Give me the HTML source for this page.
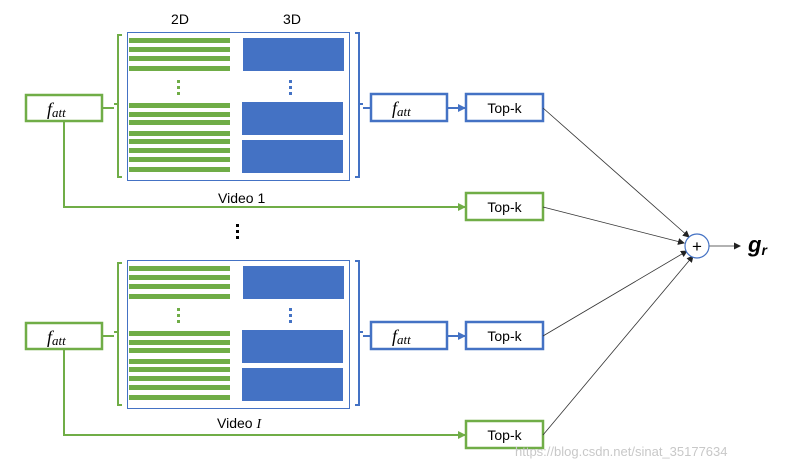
<!DOCTYPE html>
<html><head><meta charset="utf-8"><style>
html,body{margin:0;padding:0;background:#fff;width:788px;height:470px;overflow:hidden}
svg{display:block}
text{font-family:"Liberation Sans",sans-serif}
.m{font-family:"Liberation Serif",serif;font-style:italic}
</style></head><body>
<svg width="788" height="470" viewBox="0 0 788 470" xmlns="http://www.w3.org/2000/svg">
<defs>
<marker id="ab" markerWidth="8" markerHeight="8" refX="7" refY="4" orient="auto" markerUnits="userSpaceOnUse"><path d="M0,0 L8,4 L0,8 z" fill="#4472c4"/></marker>
<marker id="ag" markerWidth="8" markerHeight="8" refX="7" refY="4" orient="auto" markerUnits="userSpaceOnUse"><path d="M0,0 L8,4 L0,8 z" fill="#70ad47"/></marker>
<marker id="ak" markerWidth="7" markerHeight="7" refX="6" refY="3.5" orient="auto" markerUnits="userSpaceOnUse"><path d="M0,0 L7,3.5 L0,7 z" fill="#222"/></marker>
<g id="grp">
  <rect x="127.5" y="32.5" width="222" height="148" fill="#fff" stroke="#4472c4" stroke-width="1"/>
  <g fill="#70ad47">
    <rect x="129" y="38" width="101" height="5"/><rect x="129" y="47" width="101" height="5"/>
    <rect x="129" y="56" width="101" height="5"/><rect x="129" y="66" width="101" height="5"/>
    <rect x="129" y="103" width="101" height="5"/><rect x="129" y="112" width="101" height="5"/>
    <rect x="129" y="120" width="101" height="5"/><rect x="129" y="131" width="101" height="5"/>
    <rect x="129" y="139" width="101" height="5"/><rect x="129" y="148" width="101" height="5"/>
    <rect x="129" y="157" width="101" height="5"/><rect x="129" y="167" width="101" height="5"/>
    <rect x="177" y="80" width="3" height="3"/><rect x="177" y="86" width="3" height="3"/><rect x="177" y="92" width="3" height="3"/>
  </g>
  <g fill="#4472c4">
    <rect x="243" y="38" width="101" height="33"/>
    <rect x="242" y="102" width="101" height="33"/>
    <rect x="242" y="140" width="101" height="33"/>
    <rect x="289" y="80" width="3" height="3"/><rect x="289" y="86" width="3" height="3"/><rect x="289" y="92" width="3" height="3"/>
  </g>
  <path d="M122,35 h-4 v69 h-4 h4 v73 h4" fill="none" stroke="#70ad47" stroke-width="2"/>
  <path d="M355,33 h4 v71 h4 h-4 v73 h-4" fill="none" stroke="#4472c4" stroke-width="2"/>
  <path d="M102,108 h12" stroke="#70ad47" stroke-width="2"/>
  <rect x="26" y="95" width="76" height="26" fill="#fff" stroke="#70ad47" stroke-width="2.5"/>
  <text x="47" y="115" class="m" font-size="18">f<tspan font-size="13" dy="2">att</tspan></text>
  <path d="M363,108 h8" stroke="#4472c4" stroke-width="2"/>
  <rect x="371" y="94" width="76" height="27" fill="#fff" stroke="#4472c4" stroke-width="2.5"/>
  <text x="392" y="114" class="m" font-size="18">f<tspan font-size="13" dy="2">att</tspan></text>
  <line x1="447" y1="108" x2="465" y2="108" stroke="#4472c4" stroke-width="2" marker-end="url(#ab)"/>
  <rect x="466" y="94" width="77" height="27" fill="#fff" stroke="#4472c4" stroke-width="2.5"/>
  <text x="504.5" y="113" font-size="14" text-anchor="middle">Top-k</text>
  <polyline points="64,121 64,207 465,207" fill="none" stroke="#70ad47" stroke-width="2" marker-end="url(#ag)"/>
  <rect x="466" y="193" width="77" height="27" fill="#fff" stroke="#70ad47" stroke-width="2.5"/>
  <text x="504.5" y="212" font-size="14" text-anchor="middle">Top-k</text>
</g>
</defs>
<text x="180" y="24" font-size="14" text-anchor="middle">2D</text>
<text x="292" y="24" font-size="14" text-anchor="middle">3D</text>
<use href="#grp"/>
<text x="218" y="203" font-size="14">Video 1</text>
<g fill="#000"><rect x="236" y="224" width="3" height="3"/><rect x="236" y="230" width="3" height="3"/><rect x="236" y="236" width="3" height="3"/></g>
<g transform="translate(0,228)"><use href="#grp"/></g>
<text x="217" y="428" font-size="14">Video <tspan class="m">I</tspan></text>
<g stroke="#333" stroke-width="0.8" fill="none">
<line x1="543" y1="108" x2="689" y2="237" marker-end="url(#ak)"/>
<line x1="543" y1="207" x2="684" y2="243" marker-end="url(#ak)"/>
<line x1="543" y1="336" x2="687" y2="251" marker-end="url(#ak)"/>
<line x1="543" y1="435" x2="693" y2="256" marker-end="url(#ak)"/>
<line x1="709" y1="246" x2="740" y2="246" marker-end="url(#ak)"/>
</g>
<circle cx="697" cy="246" r="12" fill="#fff" stroke="#4472c4" stroke-width="1.2"/>
<text x="697" y="252" font-size="17" text-anchor="middle">+</text>
<text x="748" y="252" font-family="Liberation Serif,serif" font-style="italic" font-weight="bold" font-size="22">g<tspan font-size="14" dy="3">r</tspan></text>
<text x="515" y="456" font-size="13" fill="#c8c8c8">https://blog.csdn.net/sinat_35177634</text>
</svg>
</body></html>
